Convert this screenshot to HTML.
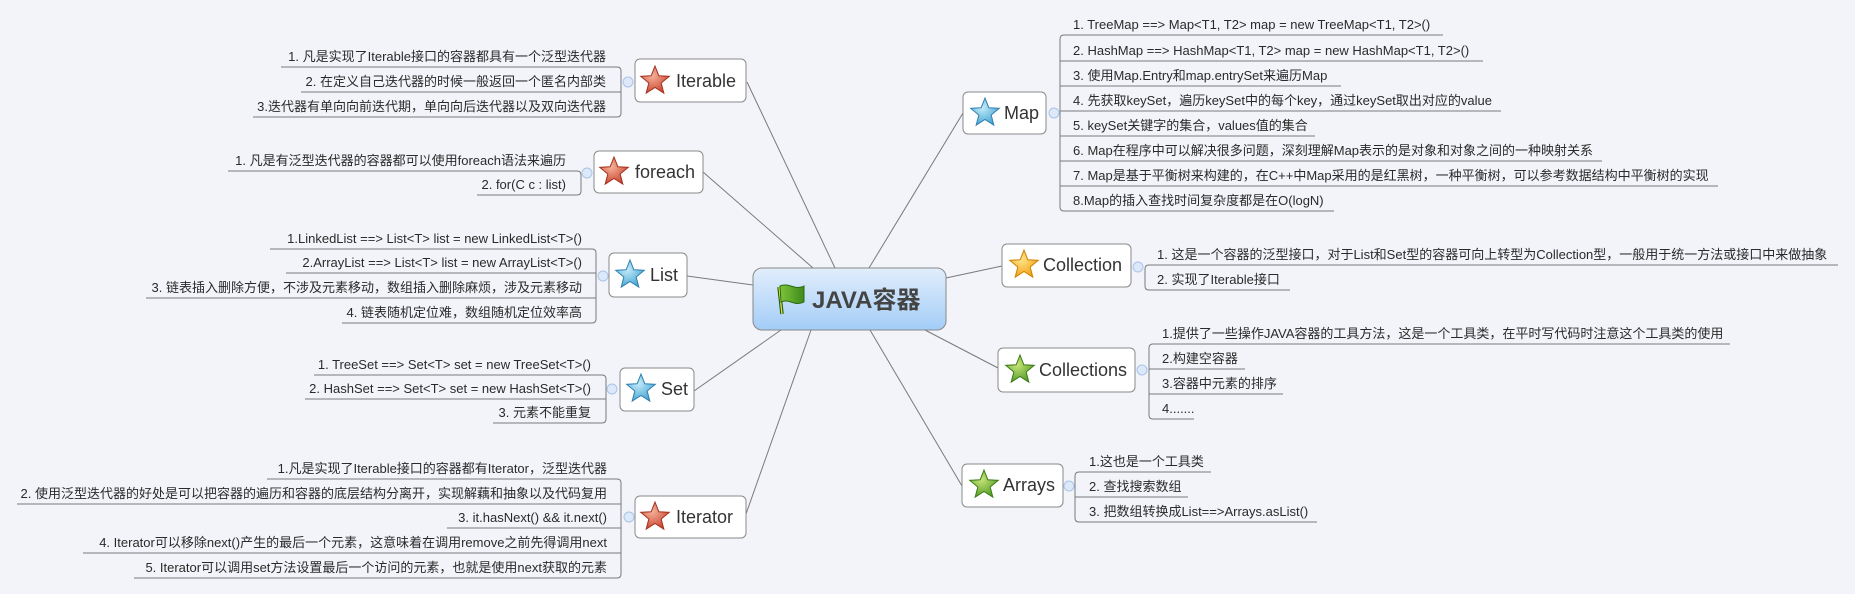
<!DOCTYPE html>
<html><head><meta charset="utf-8"><style>
html,body{margin:0;padding:0;background:#f2f4f9;}
svg{display:block;}
.it{font-family:"Liberation Sans","Noto Sans CJK SC",sans-serif;font-size:13px;fill:#2a2a2a;}
.tp{font-family:"Liberation Sans","Noto Sans CJK SC",sans-serif;font-size:18px;fill:#333;}
.ln{fill:none;stroke:#7a7a7a;stroke-width:1;}
.bx{fill:#fff;stroke:#8a8a8a;stroke-width:1;}
.cc{fill:#dde8f8;stroke:#a9c4ea;stroke-width:1;}
</style></head><body>
<svg width="1855" height="594" viewBox="0 0 1855 594" xmlns="http://www.w3.org/2000/svg">
<defs>
<path id="star" d="M0,-15 L3.82,-5.26 L14.27,-4.64 L6.18,2.01 L8.82,12.14 L0,6.5 L-8.82,12.14 L-6.18,2.01 L-14.27,-4.64 L-3.82,-5.26 Z"/>
<radialGradient id="gr" cx="0.4" cy="0.35" r="0.7"><stop offset="0" stop-color="#f5b39a"/><stop offset="1" stop-color="#c9412c"/></radialGradient>
<radialGradient id="gb" cx="0.4" cy="0.35" r="0.7"><stop offset="0" stop-color="#c6ecf8"/><stop offset="1" stop-color="#3fa2d2"/></radialGradient>
<radialGradient id="gy" cx="0.4" cy="0.35" r="0.7"><stop offset="0" stop-color="#ffe58a"/><stop offset="1" stop-color="#f0a010"/></radialGradient>
<radialGradient id="gg" cx="0.4" cy="0.35" r="0.7"><stop offset="0" stop-color="#c9e57a"/><stop offset="1" stop-color="#4f9a22"/></radialGradient>
<linearGradient id="gc" x1="0" y1="0" x2="0" y2="1"><stop offset="0" stop-color="#e2eefc"/><stop offset="1" stop-color="#a3cdf7"/></linearGradient>
<linearGradient id="gf" x1="0" y1="0" x2="1" y2="0"><stop offset="0" stop-color="#7cc43a"/><stop offset="1" stop-color="#3f8a1a"/></linearGradient>
</defs>

<g class="ln" stroke="#888">
<line x1="747" y1="82" x2="835" y2="268"/>
<line x1="703" y1="172" x2="813" y2="268"/>
<line x1="687" y1="276" x2="753" y2="285"/>
<line x1="694" y1="391" x2="781" y2="330"/>
<line x1="746" y1="514" x2="811" y2="330"/>
<line x1="963" y1="113" x2="869" y2="268"/>
<line x1="946" y1="278" x2="1002" y2="266"/>
<line x1="925" y1="330" x2="998" y2="368"/>
<line x1="870" y1="330" x2="962" y2="486"/>
</g>

<rect x="753" y="268" width="193" height="62" rx="9" fill="url(#gc)" stroke="#888"/>
<line x1="779" y1="287" x2="782" y2="314" stroke="#1e5a10" stroke-width="3.5"/>
<line x1="779" y1="287" x2="782" y2="314" stroke="#e0e040" stroke-width="1.3"/>
<path d="M780,286 C789,282 795,291 804,286 L804,302 C795,307 789,298 781,302 Z" fill="url(#gf)" stroke="#2a6a12"/>
<text x="812" y="308" style="font-family:'Liberation Sans','Noto Sans CJK SC',sans-serif;font-size:24px;font-weight:bold;fill:#444">JAVA容器</text>

<g class="ln">
<path d="M281 67 H617 Q621 67 621 71 V113 Q621 117 617 117 H253 M301 92 H621"/>
<path d="M228 171 H577 Q581 171 581 175 V191 Q581 195 577 195 H477"/>
<path d="M270 249 H592 Q596 249 596 253 V319 Q596 323 592 323 H342 M286 273 H596 M146 298 H596"/>
<path d="M314 375 H602 Q606 375 606 379 V419 Q606 423 602 423 H493 M305 399 H606"/>
<path d="M267 479 H617 Q621 479 621 483 V574 Q621 578 617 578 H134 M17 504 H621 M447 528 H621 M83 553 H621"/>
<path d="M1443 35 H1064 Q1060 35 1060 39 V207 Q1060 211 1064 211 H1334 M1060 61 H1483 M1060 86 H1341 M1060 111 H1501 M1060 136 H1315 M1060 161 H1602 M1060 186 H1718"/>
<path d="M1838 265 H1149 Q1145 265 1145 269 V286 Q1145 290 1149 290 H1290"/>
<path d="M1730 344 H1153 Q1149 344 1149 348 V415 Q1149 419 1153 419 H1194 M1149 369 H1245 M1149 394 H1283"/>
<path d="M1211 472 H1079 Q1075 472 1075 476 V518 Q1075 522 1079 522 H1317 M1075 497 H1188"/>
</g>

<g>
<circle class="cc" cx="628" cy="82" r="5"/><circle class="cc" cx="587" cy="173" r="5"/>
<circle class="cc" cx="603" cy="276" r="5"/><circle class="cc" cx="612" cy="389" r="5"/>
<circle class="cc" cx="629" cy="517" r="5"/><circle class="cc" cx="1054" cy="113" r="5"/>
<circle class="cc" cx="1138" cy="267" r="5"/><circle class="cc" cx="1142" cy="370" r="5"/>
<circle class="cc" cx="1069" cy="486" r="5"/>
</g>

<rect class="bx" x="635" y="59" width="111" height="43" rx="5"/>
<use href="#star" x="655" y="81" fill="url(#gr)" stroke="#a33020"/>
<text class="tp" x="676" y="87">Iterable</text>

<rect class="bx" x="594" y="151" width="109" height="42" rx="5"/>
<use href="#star" x="614" y="172" fill="url(#gr)" stroke="#a33020"/>
<text class="tp" x="635" y="178">foreach</text>

<rect class="bx" x="609" y="253" width="78" height="44" rx="5"/>
<use href="#star" x="630" y="275" fill="url(#gb)" stroke="#2f7fb0"/>
<text class="tp" x="650" y="281">List</text>

<rect class="bx" x="620" y="368" width="74" height="43" rx="5"/>
<use href="#star" x="641" y="389" fill="url(#gb)" stroke="#2f7fb0"/>
<text class="tp" x="661" y="395">Set</text>

<rect class="bx" x="635" y="496" width="111" height="42" rx="5"/>
<use href="#star" x="655" y="517" fill="url(#gr)" stroke="#a33020"/>
<text class="tp" x="676" y="523">Iterator</text>

<rect class="bx" x="963" y="92" width="83" height="42" rx="5"/>
<use href="#star" x="985" y="113" fill="url(#gb)" stroke="#2f7fb0"/>
<text class="tp" x="1004" y="119">Map</text>

<rect class="bx" x="1002" y="244" width="129" height="43" rx="5"/>
<use href="#star" x="1024" y="265" fill="url(#gy)" stroke="#d08000"/>
<text class="tp" x="1043" y="271">Collection</text>

<rect class="bx" x="998" y="348" width="137" height="44" rx="5"/>
<use href="#star" x="1020" y="370" fill="url(#gg)" stroke="#3a7a18"/>
<text class="tp" x="1039" y="376">Collections</text>

<rect class="bx" x="962" y="464" width="101" height="43" rx="5"/>
<use href="#star" x="984" y="485" fill="url(#gg)" stroke="#3a7a18"/>
<text class="tp" x="1003" y="491">Arrays</text>

<g class="it" text-anchor="end">
<text x="606" y="61">1. 凡是实现了Iterable接口的容器都具有一个泛型迭代器</text>
<text x="606" y="86">2. 在定义自己迭代器的时候一般返回一个匿名内部类</text>
<text x="606" y="111">3.迭代器有单向向前迭代期，单向向后迭代器以及双向迭代器</text>
<text x="566" y="165">1. 凡是有泛型迭代器的容器都可以使用foreach语法来遍历</text>
<text x="566" y="189">2. for(C c : list)</text>
<text x="582" y="243">1.LinkedList  ==&gt; List&lt;T&gt; list = new LinkedList&lt;T&gt;()</text>
<text x="582" y="267">2.ArrayList ==&gt; List&lt;T&gt; list = new ArrayList&lt;T&gt;()</text>
<text x="582" y="292">3. 链表插入删除方便，不涉及元素移动，数组插入删除麻烦，涉及元素移动</text>
<text x="582" y="317">4. 链表随机定位难，数组随机定位效率高</text>
<text x="591" y="369">1. TreeSet ==&gt; Set&lt;T&gt; set = new TreeSet&lt;T&gt;()</text>
<text x="591" y="393">2. HashSet ==&gt; Set&lt;T&gt; set = new HashSet&lt;T&gt;()</text>
<text x="591" y="417">3. 元素不能重复</text>
<text x="607" y="473">1.凡是实现了Iterable接口的容器都有Iterator，泛型迭代器</text>
<text x="607" y="498">2. 使用泛型迭代器的好处是可以把容器的遍历和容器的底层结构分离开，实现解藕和抽象以及代码复用</text>
<text x="607" y="522">3. it.hasNext() &amp;&amp; it.next()</text>
<text x="607" y="547">4. Iterator可以移除next()产生的最后一个元素，这意味着在调用remove之前先得调用next</text>
<text x="607" y="572">5. Iterator可以调用set方法设置最后一个访问的元素，也就是使用next获取的元素</text>
</g>

<g class="it">
<text x="1073" y="29">1. TreeMap ==&gt; Map&lt;T1, T2&gt; map = new TreeMap&lt;T1, T2&gt;()</text>
<text x="1073" y="55">2. HashMap ==&gt; HashMap&lt;T1, T2&gt; map = new HashMap&lt;T1, T2&gt;()</text>
<text x="1073" y="80">3. 使用Map.Entry和map.entrySet来遍历Map</text>
<text x="1073" y="105">4. 先获取keySet，遍历keySet中的每个key，通过keySet取出对应的value</text>
<text x="1073" y="130">5. keySet关键字的集合，values值的集合</text>
<text x="1073" y="155">6. Map在程序中可以解决很多问题，深刻理解Map表示的是对象和对象之间的一种映射关系</text>
<text x="1073" y="180">7. Map是基于平衡树来构建的，在C++中Map采用的是红黑树，一种平衡树，可以参考数据结构中平衡树的实现</text>
<text x="1073" y="205">8.Map的插入查找时间复杂度都是在O(logN)</text>
<text x="1157" y="259">1. 这是一个容器的泛型接口，对于List和Set型的容器可向上转型为Collection型，一般用于统一方法或接口中来做抽象</text>
<text x="1157" y="284">2. 实现了Iterable接口</text>
<text x="1162" y="338">1.提供了一些操作JAVA容器的工具方法，这是一个工具类，在平时写代码时注意这个工具类的使用</text>
<text x="1162" y="363">2.构建空容器</text>
<text x="1162" y="388">3.容器中元素的排序</text>
<text x="1162" y="413">4.......</text>
<text x="1089" y="466">1.这也是一个工具类</text>
<text x="1089" y="491">2. 查找搜索数组</text>
<text x="1089" y="516">3. 把数组转换成List==&gt;Arrays.asList()</text>
</g>
</svg>
</body></html>
